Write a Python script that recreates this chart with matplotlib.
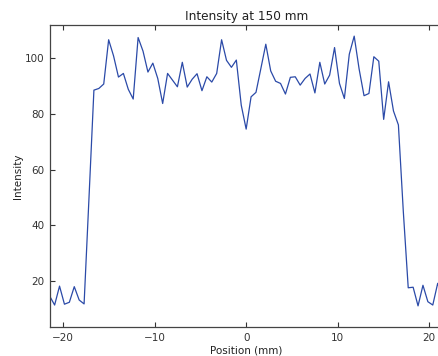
import numpy as np
import matplotlib
matplotlib.use('Agg')
import matplotlib.pyplot as plt

# intensity profile, 81 evenly spaced positions
x_min = -21.48
x_max = 21.48
intensity = [
    14.6, 11.4, 18.2, 11.7, 12.4, 18.0, 13.2, 11.8, 50.0, 88.6,
    89.2, 90.8, 106.7, 100.9, 93.3, 94.6, 88.9, 85.4, 107.5, 102.6,
    95.1, 98.3, 92.8, 83.8, 94.6, 92.2, 89.8, 98.6, 89.7, 92.5,
    94.5, 88.4, 93.4, 91.5, 94.6, 106.7, 99.3, 96.8, 99.4, 83.2,
    74.6, 86.2, 87.8, 96.4, 105.1, 95.5, 91.8, 91.0, 87.2, 93.2,
    93.4, 90.4, 92.8, 94.4, 87.6, 98.6, 90.8, 94.0, 103.9, 91.0,
    85.6, 101.5, 108.0, 96.2, 86.6, 87.4, 100.6, 99.0, 78.1, 91.6,
    81.1, 76.1, 45.0, 17.6, 17.8, 11.1, 18.5, 12.6, 11.4, 19.2,
    14.0,
]
position = np.linspace(x_min, x_max, len(intensity))

fig = plt.figure(figsize=(4.38, 3.56), dpi=100)
ax = fig.add_axes([0.1135, 0.0806, 0.897, 0.848])

ax.plot(position, intensity, color='#2b4aa8', lw=0.9)

ax.set_xlim(x_min, x_max)
ax.set_ylim(3.4, 111.85)
ax.set_xticks([-20, -10, 0, 10, 20])
ax.set_yticks([20, 40, 60, 80, 100])

ax.tick_params(direction='in', top=True, right=True, length=3.5,
               width=0.8, labelsize=7.5, colors='#333333', pad=4)
for s in ax.spines.values():
    s.set_color('#444444')
    s.set_linewidth(0.9)

ax.set_xlabel('Position (mm)', fontsize=7.5, color='#222222', labelpad=2)
ax.set_ylabel('Intensity', fontsize=7.5, color='#222222', labelpad=1)
ax.set_title('Intensity at 150 mm', fontsize=8.7, color='#222222', pad=4)

fig.savefig('out.png', dpi=100)
